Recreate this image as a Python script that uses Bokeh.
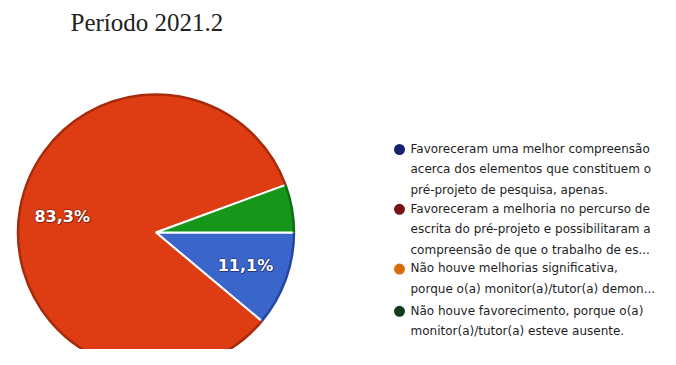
import math
from bokeh.plotting import figure
from bokeh.models import Range1d, ColumnDataSource
from bokeh.core.properties import value
from bokeh.embed import file_html
from bokeh.resources import INLINE

# ---- data ----
title_text = "Período 2021.2"
categories = [
    "Favoreceram uma melhor compreensão acerca dos elementos que constituem o pré-projeto de pesquisa, apenas.",
    "Favoreceram a melhoria no percurso de escrita do pré-projeto e possibilitaram a compreensão de que o trabalho de es...",
    "Não houve melhorias significativa, porque o(a) monitor(a)/tutor(a) demon...",
    "Não houve favorecimento, porque o(a) monitor(a)/tutor(a) esteve ausente.",
]
legend_lines = [
    ["Favoreceram uma melhor compreensão", "acerca dos elementos que constituem o", "pré-projeto de pesquisa, apenas."],
    ["Favoreceram a melhoria no percurso de", "escrita do pré-projeto e possibilitaram a", "compreensão de que o trabalho de es..."],
    ["Não houve melhorias significativa,", "porque o(a) monitor(a)/tutor(a) demon..."],
    ["Não houve favorecimento, porque o(a)", "monitor(a)/tutor(a) esteve ausente."],
]
percent = [11.1, 83.3, 0.0, 5.6]
pie_colors = ["#3a66cc", "#de3d14", "#f0900f", "#17961c"]
rim_colors = ["#2446a0", "#a82a0c", "#c07000", "#0e6e12"]
legend_colors = ["#16226e", "#7a1414", "#d96b0a", "#123d1a"]
shadow_colors = ["#1c2f7a", "#7a1e06", "#8a4a00", "#0a4a0a"]

W, H = 660, 349
p = figure(width=W, height=H, output_backend="svg", toolbar_location=None,
           x_range=Range1d(0, W), y_range=Range1d(0, H),
           x_axis_type=None, y_axis_type=None, min_border=0)
p.outline_line_color = None
p.grid.visible = False
p.background_fill_color = "white"
p.border_fill_color = "white"

def Y(screen_y):
    return H - screen_y

# ---- pie ----
cx, cy, r = 155.5, Y(232), 139
total = sum(percent)
starts, ends, cols, rims = [], [], [], []
lx, ly, ltxt, lsh = [], [], [], []
cum = 0.0
for v, c, rc, sc in zip(percent, pie_colors, rim_colors, shadow_colors):
    a0 = cum / total * 2 * math.pi
    cum += v
    a1 = cum / total * 2 * math.pi
    if v <= 0:
        continue
    starts.append(-a0)
    ends.append(-a1)
    cols.append(c)
    rims.append(rc)
    if v >= 10:
        mid = -(a0 + a1) / 2
        lx.append(cx + 0.685 * r * math.cos(mid))
        ly.append(cy + 0.685 * r * math.sin(mid))
        ltxt.append(f"{v:.1f}%".replace(".", ","))
        lsh.append(sc)

src = ColumnDataSource(dict(x=[cx] * len(starts), y=[cy] * len(starts),
                            s=starts, e=ends, c=cols, rc=rims))
p.wedge(x="x", y="y", radius=r, start_angle="s", end_angle="e", direction="clock",
        fill_color="c", line_color="white", line_width=2, source=src)
p.arc(x="x", y="y", radius=r - 1, start_angle="s", end_angle="e", direction="clock",
      line_color="rc", line_width=2.5, source=src)

# label halo (soft dark shadow) then white text
for dx, dy in [(-1, 0), (1, 0), (0, -1), (0, 1), (1, -1)]:
    hs = ColumnDataSource(dict(x=[a + dx for a in lx], y=[b + dy for b in ly], t=ltxt, c=lsh))
    p.text(x="x", y="y", text="t", source=hs, text_font=value("DejaVu Sans"),
           text_font_style="bold", text_font_size="16px", text_color="c", text_alpha=0.6,
           text_align="center", text_baseline="middle")
lsrc = ColumnDataSource(dict(x=lx, y=ly, t=ltxt))
p.text(x="x", y="y", text="t", source=lsrc, text_font=value("DejaVu Sans"),
       text_font_style="bold", text_font_size="16px", text_color="white",
       text_align="center", text_baseline="middle")

# ---- title ----
p.text(x=[70], y=[Y(22)], text=[title_text], text_font=value("Liberation Serif"),
       text_font_size="25px", text_color="#222222", text_align="left",
       text_baseline="middle")

# ---- legend ----
fs = 12.0
lh = 17.6
gap = 7.0
first = 150.0
mx, my, mc, tx, ty, tt = [], [], [], [], [], []
yy = first
for lines, col in zip(legend_lines, legend_colors):
    mx.append(399)
    my.append(Y(yy - 1))
    mc.append(col)
    tx.append(410)
    ty.append(Y(yy - lh / 2))
    tt.append("\n".join(lines))
    yy += len(lines) * lh + gap

p.scatter(x=mx, y=my, size=11, marker="circle", fill_color=mc, line_color=None)
p.text(x=tx, y=ty, text=tt, text_font=value("DejaVu Sans"), text_font_size=f"{fs}px",
       text_color="#1e1e1e", text_align="left", text_baseline="top",
       text_line_height=lh / fs)

open("out.html", "w").write(file_html(p, INLINE))
